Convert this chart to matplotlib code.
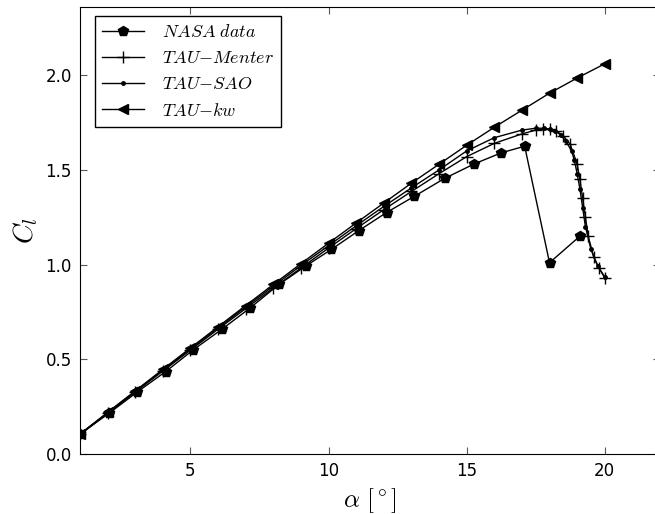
import numpy as np
import matplotlib
matplotlib.use("Agg")
import matplotlib.pyplot as plt

plt.rcParams['mathtext.fontset'] = 'cm'

# NASA experimental data
nasa_alpha = [1.0, 2.05, 3.05, 4.1, 5.1, 6.15, 7.15, 8.2, 9.2, 10.1, 11.1, 12.1,
              13.1, 14.2, 15.25, 16.25, 17.1, 18.0, 19.1]
nasa_cl = [0.105, 0.215, 0.325, 0.435, 0.55, 0.66, 0.77, 0.895, 0.995, 1.08, 1.18,
           1.275, 1.36, 1.455, 1.53, 1.59, 1.625, 1.01, 1.15]

# TAU Menter SST
menter_alpha = [1, 2, 3, 4, 5, 6, 7, 8, 9, 10, 11, 12, 13, 14, 15, 16, 17, 17.5,
                17.75, 18.0, 18.25, 18.5, 18.75, 19.0, 19.1, 19.2, 19.3, 19.4,
                19.6, 19.8, 20.0]
menter_cl = [0.103, 0.215, 0.327, 0.438, 0.549, 0.659, 0.768, 0.876, 0.982, 1.087,
             1.19, 1.29, 1.386, 1.48, 1.57, 1.64, 1.69, 1.71, 1.715, 1.715, 1.705,
             1.68, 1.635, 1.53, 1.45, 1.35, 1.25, 1.15, 1.04, 0.98, 0.93]

# TAU SAO
sao_alpha = [1, 2, 3, 4, 5, 6, 7, 8, 9, 10, 11, 12, 13, 14, 15, 16, 17, 17.5, 17.8,
             18.0, 18.2, 18.4, 18.6, 18.8, 18.9, 19.0, 19.1, 19.2, 19.3, 19.5,
             19.75, 20.0]
sao_cl = [0.105, 0.218, 0.331, 0.443, 0.555, 0.666, 0.777, 0.886, 0.995, 1.10,
          1.205, 1.307, 1.405, 1.50, 1.60, 1.67, 1.71, 1.72, 1.72, 1.715, 1.705,
          1.685, 1.65, 1.60, 1.55, 1.48, 1.40, 1.30, 1.20, 1.08, 0.99, 0.935]

# TAU k-omega
kw_alpha = [1, 2, 3, 4, 5, 6, 7, 8, 9, 10, 11, 12, 13, 14, 15, 16, 17, 18, 19, 20]
kw_cl = [0.105, 0.22, 0.333, 0.447, 0.56, 0.672, 0.784, 0.895, 1.005, 1.113, 1.22,
         1.325, 1.43, 1.53, 1.63, 1.725, 1.815, 1.905, 1.985, 2.06]

fig = plt.figure(figsize=(6.55, 5.14), dpi=100)
ax = fig.add_axes([80/655, 60/514, 580/655, 447/514])

ax.plot(nasa_alpha, nasa_cl, 'k-', marker='p', markersize=7, lw=1, label=r'$NASA\ data$')
ax.plot(menter_alpha, menter_cl, 'k-', marker='+', markersize=9, lw=1, label=r'$TAU{-}Menter$')
ax.plot(sao_alpha, sao_cl, 'k-', marker='.', markersize=5, lw=1, label=r'$TAU{-}SAO$')
ax.plot(kw_alpha, kw_cl, 'k-', marker='<', markersize=7, lw=1, label=r'$TAU{-}kw$')

ax.set_xlim(1, 22)
ax.set_ylim(0, 2.36)
ax.set_xticks([5, 10, 15, 20])
ax.set_yticks([0.0, 0.5, 1.0, 1.5, 2.0])
ax.tick_params(direction='in', top=True, right=True, length=5, labelsize=12, pad=6,
               color='0.35')

ax.set_xlabel(r'$\alpha\ [^\circ]$', fontsize=18)
ax.set_ylabel(r'$C_l$', fontsize=20)

leg = ax.legend(loc='upper left', bbox_to_anchor=(15/580, (454-16)/447),
                borderaxespad=0, fontsize=13, fancybox=False, edgecolor='k',
                framealpha=1, handlelength=2.3, handletextpad=1.0,
                labelspacing=0.45, borderpad=0.4)
leg.get_frame().set_linewidth(1)

fig.savefig('out.png', dpi=100)
